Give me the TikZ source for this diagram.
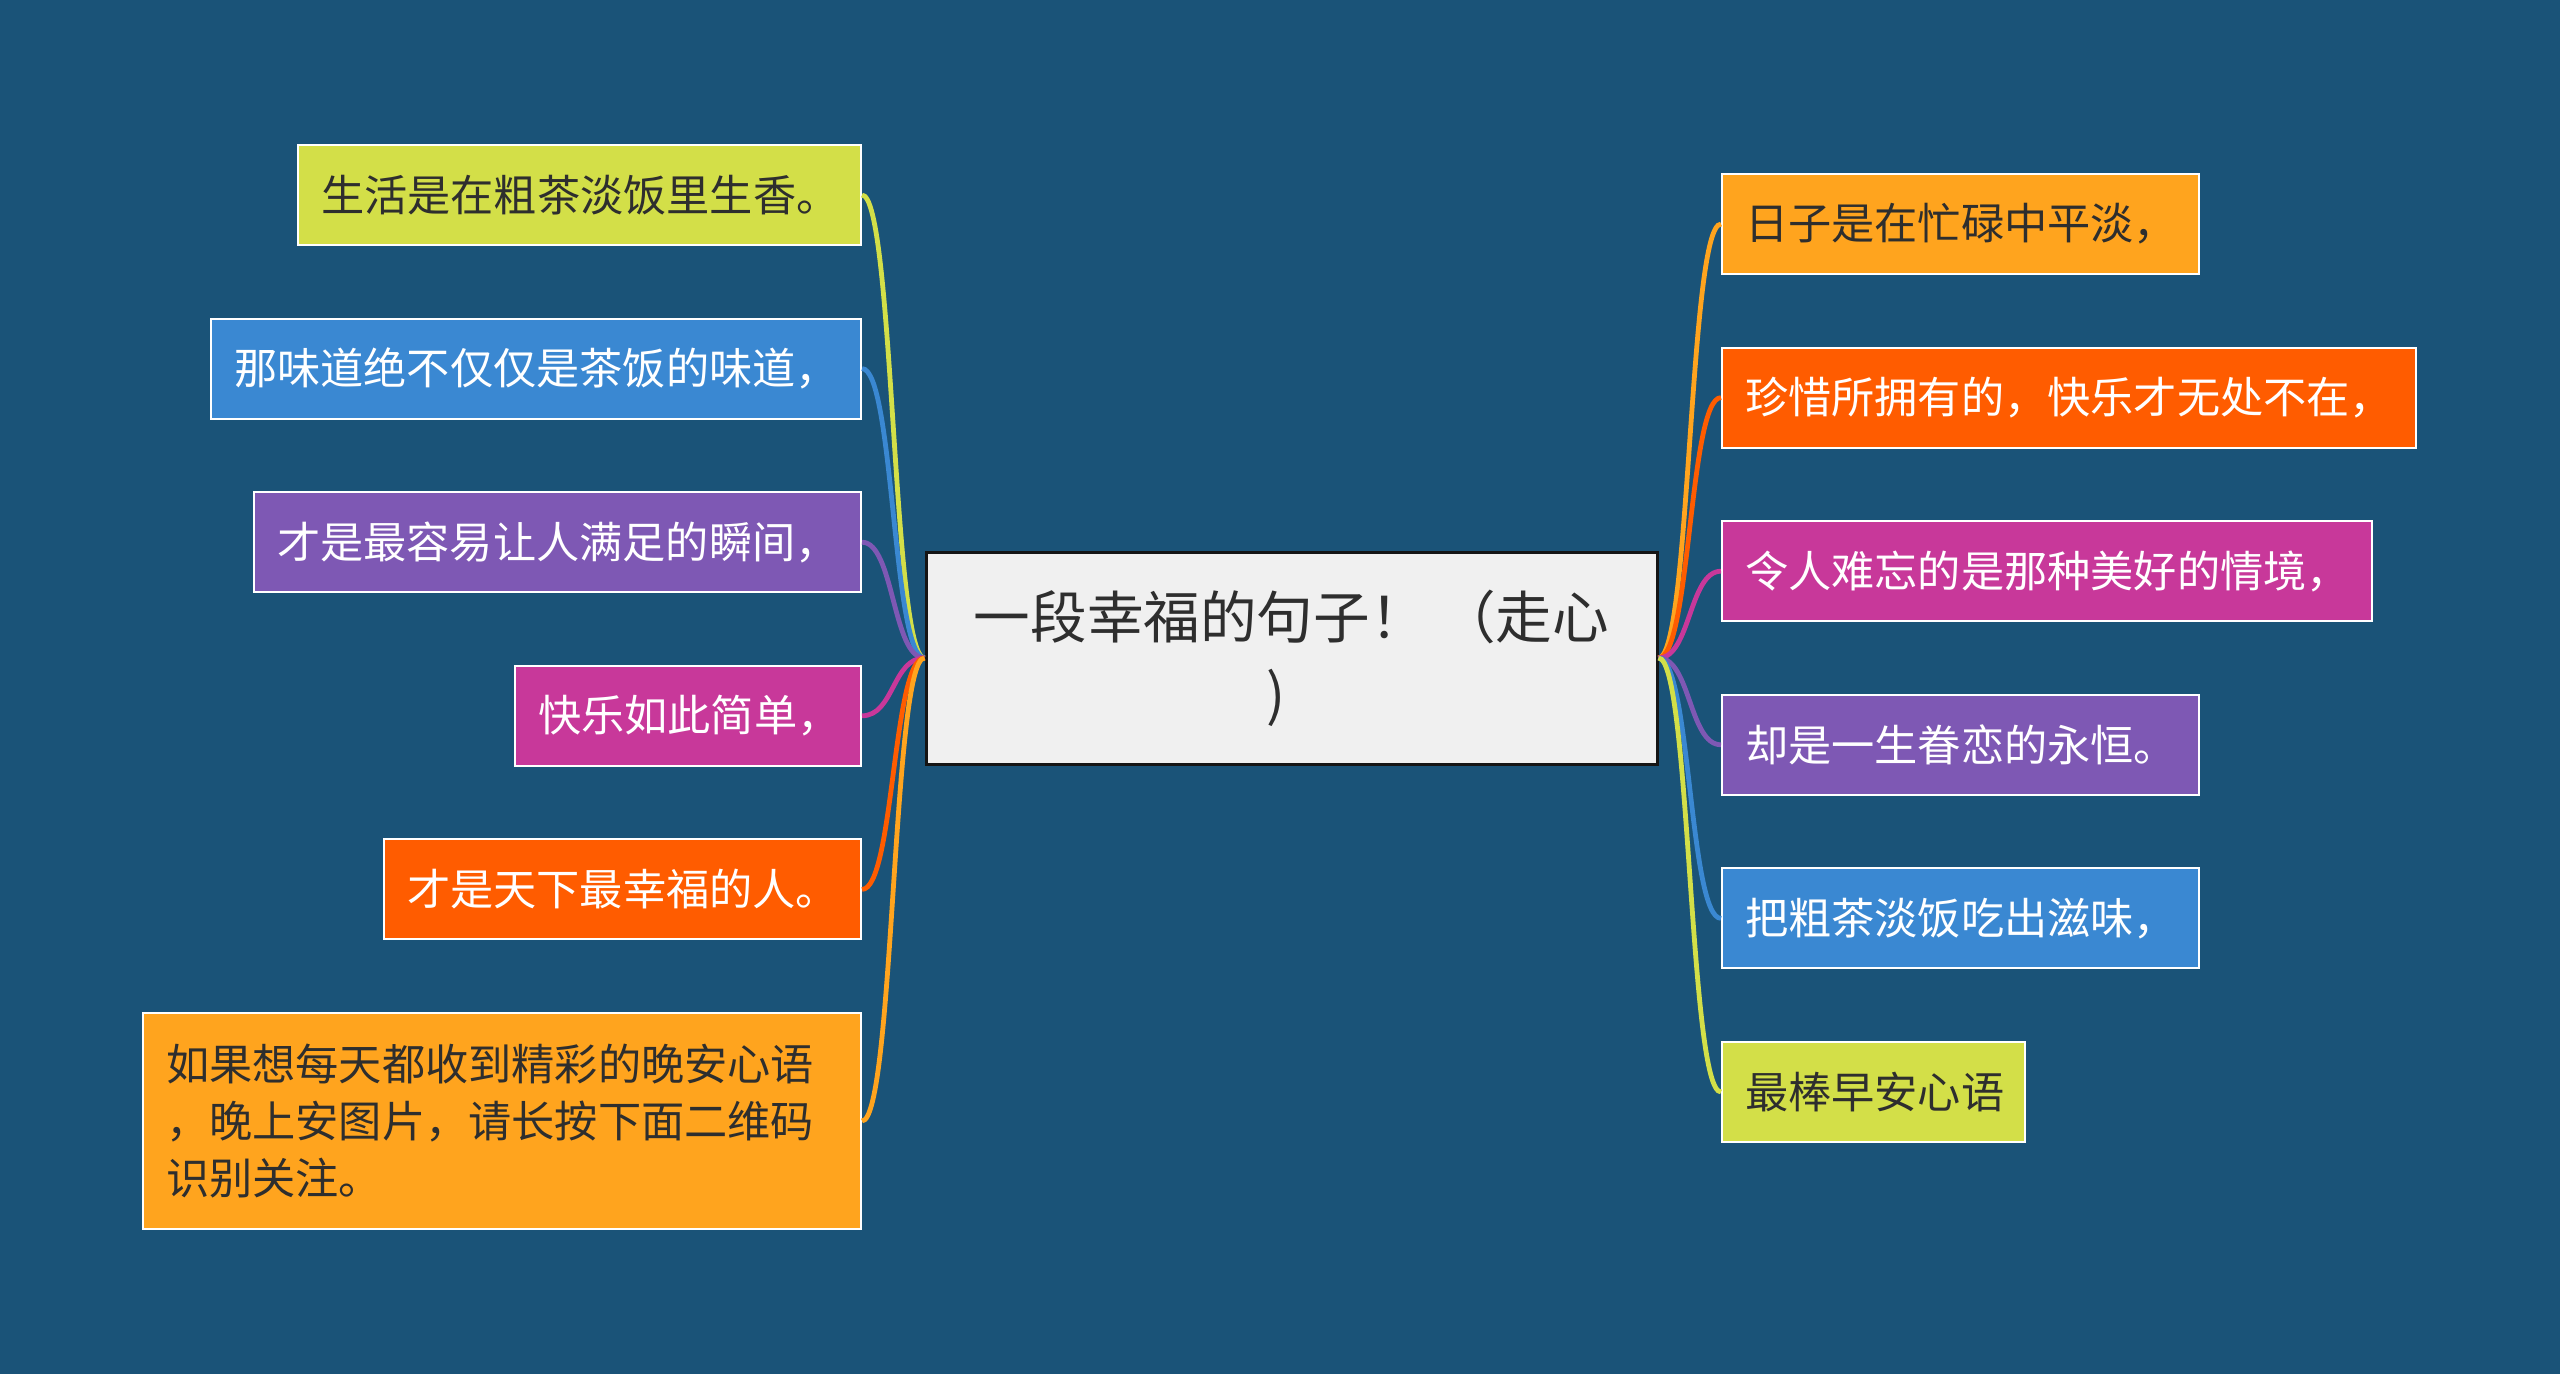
\documentclass[tikz,border=0pt]{standalone}
\usepackage{fontspec}
\usepackage{xcolor}
\usepackage{tikz}
\usetikzlibrary{positioning}
\newfontfamily\cjk{Noto Sans CJK SC}
\definecolor{bgblue}{HTML}{1A5378}
\definecolor{leafLime}{HTML}{D3DF48}
\definecolor{leafBlue}{HTML}{3A88D2}
\definecolor{leafPurple}{HTML}{7E58B4}
\definecolor{leafMagenta}{HTML}{C8389A}
\definecolor{leafRed}{HTML}{FF5C00}
\definecolor{leafOrange}{HTML}{FFA41E}
\definecolor{inkdark}{HTML}{2E2E2E}
\definecolor{hubfill}{HTML}{F0F0F0}
\definecolor{hubline}{HTML}{151515}

\begin{document}
\begin{tikzpicture}[x=0.5pt, y=-0.5pt, node distance=35.8pt,
	leaf/.style={draw=white, line width=1pt, inner xsep=11.5pt, inner ysep=0pt, minimum height=50pt, align=left, font=\cjk\fontsize{21.6pt}{28.5pt}\selectfont},
	darktext/.style={text=inkdark}, whitetext/.style={text=white},
	hub/.style={draw=hubline, line width=1.5pt, fill=hubfill, minimum width=365.5pt, minimum height=106pt, align=center, text=inkdark, font=\cjk\fontsize{28.3pt}{38.5pt}\selectfont},
	link/.style={line width=2.4pt}]
	\fill[bgblue] (0,0) rectangle (2560,1374);
	\useasboundingbox (0,0) rectangle (2560,1374);

	\node[hub] (hub) at (1291.5,658) {一段幸福的句子！ （走心\\)\hspace*{15pt}};

	\node[leaf, fill=leafLime, darktext, text width=258.5pt, anchor=north east] (life) at (862,144) {生活是在粗茶淡饭里生香。};
	\node[leaf, fill=leafBlue, whitetext, text width=302pt, below=of life.south east, anchor=north east] (taste) {那味道绝不仅仅是茶饭的味道，};
	\node[leaf, fill=leafPurple, whitetext, text width=280.5pt, below=of taste.south east, anchor=north east] (moment) {才是最容易让人满足的瞬间，};
	\node[leaf, fill=leafMagenta, whitetext, text width=150pt, below=of moment.south east, anchor=north east] (simple) {快乐如此简单，};
	\node[leaf, fill=leafRed, whitetext, text width=215.5pt, below=of simple.south east, anchor=north east] (happiest) {才是天下最幸福的人。};
	\node[leaf, fill=leafOrange, darktext, text width=336pt, minimum height=108pt, below=of happiest.south east, anchor=north east] (qrcode) {如果想每天都收到精彩的晚安心语\\，晚上安图片，请长按下面二维码\\识别关注。};

	\node[leaf, fill=leafOrange, darktext, text width=215.5pt, anchor=north west] (days) at (1721,173) {日子是在忙碌中平淡，};
	\node[leaf, fill=leafRed, whitetext, text width=324pt, below=of days.south west, anchor=north west] (cherish) {珍惜所拥有的，快乐才无处不在，};
	\node[leaf, fill=leafMagenta, whitetext, text width=302pt, below=of cherish.south west, anchor=north west] (scene) {令人难忘的是那种美好的情境，};
	\node[leaf, fill=leafPurple, whitetext, text width=215.5pt, below=of scene.south west, anchor=north west] (forever) {却是一生眷恋的永恒。};
	\node[leaf, fill=leafBlue, whitetext, text width=215.5pt, below=of forever.south west, anchor=north west] (savor) {把粗茶淡饭吃出滋味，};
	\node[leaf, fill=leafLime, darktext, text width=128.5pt, below=of savor.south west, anchor=north west] (morning) {最棒早安心语};

	\draw[link, leafLime] (hub.west) .. controls +(-16pt,0pt) and +(16pt,0pt) .. (life.east);
	\draw[link, leafBlue] (hub.west) .. controls +(-16pt,0pt) and +(16pt,0pt) .. (taste.east);
	\draw[link, leafPurple] (hub.west) .. controls +(-16pt,0pt) and +(16pt,0pt) .. (moment.east);
	\draw[link, leafMagenta] (hub.west) .. controls +(-16pt,0pt) and +(16pt,0pt) .. (simple.east);
	\draw[link, leafRed] (hub.west) .. controls +(-16pt,0pt) and +(16pt,0pt) .. (happiest.east);
	\draw[link, leafOrange] (hub.west) .. controls +(-16pt,0pt) and +(16pt,0pt) .. (qrcode.east);

	\draw[link, leafOrange] (hub.east) .. controls +(16pt,0pt) and +(-16pt,0pt) .. (days.west);
	\draw[link, leafRed] (hub.east) .. controls +(16pt,0pt) and +(-16pt,0pt) .. (cherish.west);
	\draw[link, leafMagenta] (hub.east) .. controls +(16pt,0pt) and +(-16pt,0pt) .. (scene.west);
	\draw[link, leafPurple] (hub.east) .. controls +(16pt,0pt) and +(-16pt,0pt) .. (forever.west);
	\draw[link, leafBlue] (hub.east) .. controls +(16pt,0pt) and +(-16pt,0pt) .. (savor.west);
	\draw[link, leafLime] (hub.east) .. controls +(16pt,0pt) and +(-16pt,0pt) .. (morning.west);
\end{tikzpicture}
\end{document}
